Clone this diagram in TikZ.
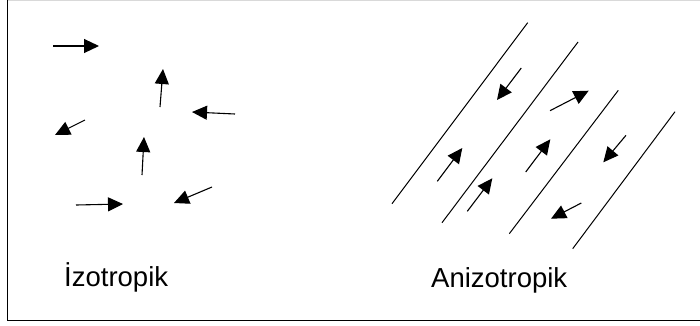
\documentclass[tikz,border=0pt]{standalone}
\usepackage{fontspec}
\setmainfont{Liberation Sans}
\usetikzlibrary{arrows.meta}
\begin{document}
\begin{tikzpicture}[x=1pt,y=-1pt,
  vec/.style={line width=1.1pt,-{Triangle[length=15pt,width=14pt]}},
  grain/.style={line width=1pt},
  lbl/.style={anchor=base west,inner sep=0pt,font=\fontsize{27.5}{30}\selectfont}]
\useasboundingbox (0,0) rectangle (700,325);
% frame
\draw[black!15,line width=1pt] (7,0.5) -- (700,0.5);
\draw[line width=1.8pt] (7.5,0) -- (7.5,320.5) -- (700,320.5);
% isotropic arrows
\draw[vec] (53,46) -- (99,46);
\draw[vec] (160,107) -- (163,69);
\draw[vec] (235,114) -- (192,112);
\draw[vec] (85,120) -- (55,135);
\draw[vec] (142,175) -- (144,137);
\draw[vec] (76,205) -- (123,204);
\draw[vec] (212,187) -- (174,203);
% anisotropic lines
\draw[grain] (527.7,22.7) -- (392,203.7);
\draw[grain] (578,42) -- (442,222.7);
\draw[grain] (618.3,90.3) -- (509.3,233.7);
\draw[grain] (675,111.7) -- (572.7,248.7);
% anisotropic arrows
\draw[vec] (521.3,68) -- (497,100);
\draw[vec] (550,110.7) -- (588.7,90.7);
\draw[vec] (437.3,181.3) -- (462.3,148);
\draw[vec] (525.7,172) -- (550.3,139.3);
\draw[vec] (626,135.3) -- (603.3,162.3);
\draw[vec] (467.3,211.3) -- (492.3,178.3);
\draw[vec] (581.3,203) -- (551,218.7);
% labels
\node[lbl] (iso) at (64,286.7) {İzotropik};
\node[lbl] (aniso) at (431,287) {Anizotropik};
\end{tikzpicture}
\end{document}
